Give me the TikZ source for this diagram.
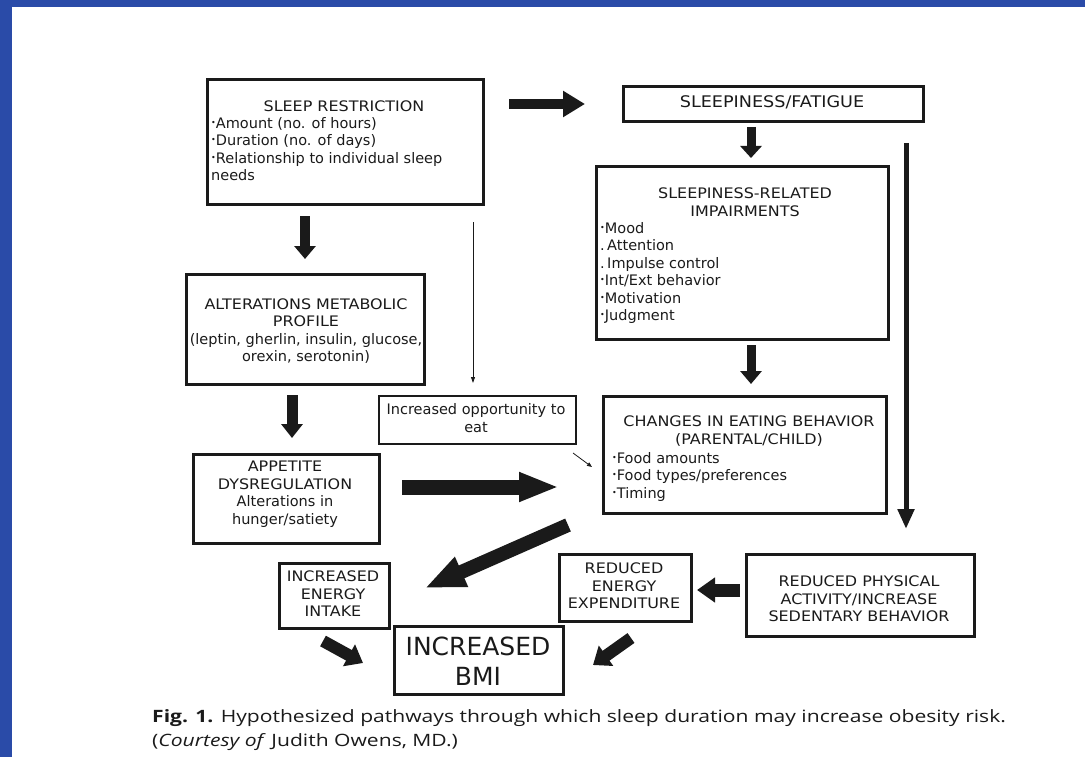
\documentclass[tikz,border=0pt]{standalone}
\usepackage{fontspec}
\usetikzlibrary{arrows.meta}
\setmainfont{DejaVu Sans}
\newfontfamily\capsf[FakeStretch=1.1]{DejaVu Sans}
\newfontfamily\capfont[FakeStretch=1.24]{Open Sans}
\definecolor{frameblue}{HTML}{2A4BA8}
\definecolor{ink}{HTML}{1A1A1A}
\newcommand{\bul}{\raisebox{0.35ex}{\scalebox{0.55}{\textbullet}}}
\tikzset{
  box/.style={draw=ink, line width=3pt, inner sep=0pt, anchor=north west},
  lightbox/.style={draw=ink, line width=2pt, inner sep=0pt, anchor=north west},
  lbl/.style={font=\fontsize{14.5}{17.5}\selectfont, text=ink, inner sep=0pt, align=center},
  lst/.style={font=\fontsize{14.5}{17.5}\selectfont, text=ink, inner sep=0pt, align=left, anchor=north west},
  captext/.style={font=\capfont\fontsize{17}{24}\selectfont, text=ink, inner sep=0pt, anchor=base west},
  blk/.style n args={3}{draw=ink, line width=#1pt, -{Triangle[length=#3pt,width=#2pt]}},
}
\begin{document}
\begin{tikzpicture}[x=1pt,y=-1pt]
\useasboundingbox (0,0) rectangle (1085,757);
% page frame
\fill[frameblue] (0,0) rectangle (1085,7);
\fill[frameblue] (0,0) rectangle (12,757);

% boxes
\node[box, minimum width=276pt, minimum height=125pt] (sr) at (206,78) {};
\node[box, minimum width=300pt, minimum height=35pt] (sf) at (622,85) {};
\node[box, minimum width=292pt, minimum height=173pt] (sri) at (595,165) {};
\node[box, minimum width=238pt, minimum height=110pt] (amp) at (185,273) {};
\node[lightbox, minimum width=197pt, minimum height=48pt] (ioe) at (378,395) {};
\node[box, minimum width=186pt, minimum height=89pt] (ad) at (192,453) {};
\node[box, minimum width=283pt, minimum height=117pt] (ceb) at (602,395) {};
\node[box, minimum width=110pt, minimum height=65pt] (iei) at (278,562) {};
\node[box, minimum width=132pt, minimum height=67pt] (ree) at (558,553) {};
\node[box, minimum width=228pt, minimum height=82pt] (rpa) at (745,553) {};
\node[box, minimum width=169pt, minimum height=68pt] (bmi) at (393,625) {};

% box texts
\node[lbl] (sr-t) at (344,106) {\capsf SLEEP RESTRICTION};
\node[lst] (sr-l) at (211,117) {\bul Amount (no. of hours)\\ \bul Duration (no. of days)\\ \bul Relationship to individual sleep\\ needs};
\node[lbl, font=\capsf\fontsize{16}{18}\selectfont] (sf-t) at (772,102) {SLEEPINESS/FATIGUE};
\node[lbl] (sri-t) at (745,202) {\capsf SLEEPINESS-RELATED\\ \capsf IMPAIRMENTS};
\node[lst] (sri-l) at (600,222) {\bul Mood\\ .\,Attention\\ .\,Impulse control\\ \bul Int/Ext behavior\\ \bul Motivation\\ \bul Judgment};
\node[lbl] (amp-t) at (306,331) {\capsf ALTERATIONS METABOLIC\\ \capsf PROFILE\\ (leptin, gherlin, insulin, glucose,\\ orexin, serotonin)};
\node[lbl] (ioe-t) at (476,418) {Increased opportunity to\\ eat};
\node[lbl] (ad-t) at (285,494) {\capsf APPETITE\\ \capsf DYSREGULATION\\ Alterations in\\ hunger/satiety};
\node[lbl] (ceb-t) at (749,431) {\capsf CHANGES IN EATING BEHAVIOR\\ \capsf (PARENTAL/CHILD)};
\node[lst] (ceb-l) at (612,452) {\bul Food amounts\\ \bul Food types/preferences\\ \bul Timing};
\node[lbl, font=\capsf\fontsize{14.5}{17.5}\selectfont] (iei-t) at (333,594) {INCREASED\\ ENERGY\\ INTAKE};
\node[lbl, font=\capsf\fontsize{14.5}{17.5}\selectfont] (ree-t) at (624,586) {REDUCED\\ ENERGY\\ EXPENDITURE};
\node[lbl, font=\capsf\fontsize{14.5}{17.5}\selectfont] (rpa-t) at (859,599) {REDUCED PHYSICAL\\ ACTIVITY/INCREASE\\ SEDENTARY BEHAVIOR};
\node[lbl, font=\fontsize{25}{30}\selectfont] (bmi-t) at (478,661) {INCREASED\\ BMI};

% arrow end points
\coordinate (a1s) at (509,104);  \coordinate (a1e) at (585,104);
\coordinate (a2s) at (751,127);  \coordinate (a2e) at (751,158);
\coordinate (a3s) at (305,216);  \coordinate (a3e) at (305,259);
\coordinate (a4s) at (292,395);  \coordinate (a4e) at (292,438);
\coordinate (a5s) at (751,345);  \coordinate (a5e) at (751,384);
\coordinate (a6s) at (473,222);  \coordinate (a6e) at (473,383);
\coordinate (a7s) at (573,453);  \coordinate (a7e) at (592,467);
\coordinate (a8s) at (906,143);  \coordinate (a8e) at (906,529);
\coordinate (a9s) at (402,487);  \coordinate (a9e) at (559,487);
\coordinate (a10s) at (568,525); \coordinate (a10e) at (425,588);
\coordinate (a11s) at (740,590); \coordinate (a11e) at (697,590);
\coordinate (a12s) at (323,641); \coordinate (a12e) at (363,663);
\coordinate (a13s) at (631,638); \coordinate (a13e) at (593,665);

% connectors
\draw[blk={10}{25}{22}] (a1s) -- (a1e);
\draw[blk={9}{21}{12}] (a2s) -- (a2e);
\draw[blk={10}{21}{13}] (a3s) -- (a3e);
\draw[blk={11}{21}{14}] (a4s) -- (a4e);
\draw[blk={9}{21}{13}] (a5s) -- (a5e);
\draw[draw=ink, line width=0.8pt, -{Triangle[length=6pt,width=4pt]}] (a6s) -- (a6e);
\draw[draw=ink, line width=0.8pt, -{Triangle[length=5pt,width=4pt]}] (a7s) -- (a7e);
\draw[blk={5}{16}{20}] (a8s) -- (a8e);
\draw[blk={15}{27}{40}] (a9s) -- (a9e);
\draw[blk={14}{30}{40}] (a10s) -- (a10e);
\draw[blk={13}{24}{18}] (a11s) -- (a11e);
\draw[blk={12}{24}{16}] (a12s) -- (a12e);
\draw[blk={12}{24}{16}] (a13s) -- (a13e);

% caption
\node[captext] (cap1) at (152,722) {\textbf{Fig. 1.} Hypothesized pathways through which sleep duration may increase obesity risk.};
\node[captext] (cap2) at (152,746) {(\textit{Courtesy of} Judith Owens, MD.)};
\end{tikzpicture}
\end{document}
